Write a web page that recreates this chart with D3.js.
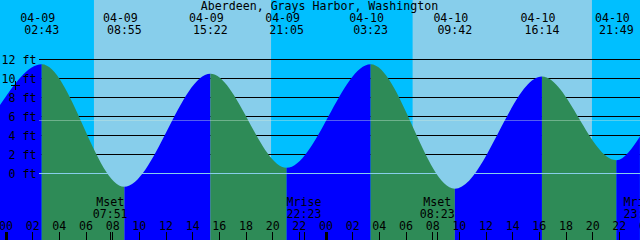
<!DOCTYPE html>
<html>
<head>
<meta charset="utf-8">
<script src="https://cdn.jsdelivr.net/npm/d3@7"></script>
<style>
  body { margin: 0; background: #00BFFF; overflow: hidden; }
  #tideChart { width: 640px; height: 240px; }
  text { font-family: "DejaVu Sans Mono", monospace; font-size: 11.6px; fill: #000; }
</style>
</head>
<body>
<div id="tideChart"></div>
<script>
// Station name
var title = "Aberdeen, Grays Harbor, Washington";

// High / low tides (time, height in ft)
var eventTimes = ["04-09 02:43", "04-09 08:55", "04-09 15:22", "04-09 21:05",
                  "04-10 03:23", "04-10 09:42", "04-10 16:14", "04-10 21:49"];
var eventLevels = [11.5, -1.4, 10.5, 0.6, 11.5, -1.6, 10.2, 1.4];

// Water level where the curve meets the left / right border
var edgeTimes = ["04-08 23:35", "04-10 23:35"];
var edgeLevels = [7.2, 3.9];

// Sun
var sunriseTimes = ["04-09 06:38", "04-10 06:32"];
var sunsetTimes = ["04-09 19:55", "04-10 19:59"];

// Moon
var moonTimes = ["04-09 07:51", "04-09 22:23", "04-10 08:23", "04-10 23:40"];
var moonNames = ["Mset", "Mrise", "Mset", "Mrise"];

// Height grid
var levelTicks = [0, 2, 4, 6, 8, 10, 12];
var meanLevel = 5.55;

// "now" mark
var markTime = "04-09 00:45";
var markLevel = 9.3;

var width = 640, height = 240;

var svg = d3.select("#tideChart")
  .append("svg")
  .attr("width", width)
  .attr("height", height);

var parseTime = d3.utcParse("%m-%d %H:%M");
var fmtDate = d3.utcFormat("%m-%d");
var fmtTime = d3.utcFormat("%H:%M");

// Define scales
var xScale = d3.scaleUtc()
  .domain([parseTime("04-09 00:00"), parseTime("04-11 00:00")])
  .range([5.5, 645.5]);

var yScale = d3.scaleLinear()
  .domain([0, 12])
  .range([173.5, 59.5]);

// Sky: night background, daylight bands
svg.append("rect")
  .attr("width", width)
  .attr("height", height)
  .attr("fill", "#00BFFF");

svg.selectAll(".day")
  .data(sunriseTimes)
  .enter()
  .append("rect")
  .attr("class", "day")
  .attr("x", function(d) { return xScale(parseTime(d)); })
  .attr("y", 0)
  .attr("width", function(d, i) { return xScale(parseTime(sunsetTimes[i])) - xScale(parseTime(d)); })
  .attr("height", height)
  .attr("fill", "#87CEEB");

// Height lines (under the water)
svg.selectAll(".grid")
  .data(levelTicks.filter(function(d) { return d > 0; }))
  .enter()
  .append("line")
  .attr("class", "grid")
  .attr("x1", 39)
  .attr("x2", width)
  .attr("y1", function(d) { return yScale(d); })
  .attr("y2", function(d) { return yScale(d); })
  .attr("stroke", "#000")
  .attr("shape-rendering", "crispEdges");

// Tide curve points
var points = edgeTimes.concat(eventTimes).map(function(t, i) {
  var lv = i < edgeTimes.length ? edgeLevels[i] : eventLevels[i - edgeTimes.length];
  return { time: parseTime(t), level: lv };
}).sort(function(a, b) { return a.time - b.time; });

var area = d3.area()
  .x(function(d) { return xScale(d.time); })
  .y0(height)
  .y1(function(d) { return yScale(d.level); })
  .curve(d3.curveMonotoneX);

svg.append("clipPath")
  .attr("id", "waterClip")
  .append("path")
  .attr("d", area(points));

var segments = d3.pairs(points);

svg.append("g")
  .attr("clip-path", "url(#waterClip)")
  .selectAll("rect")
  .data(segments)
  .enter()
  .append("rect")
  .attr("x", function(d) { return xScale(d[0].time); })
  .attr("y", 0)
  .attr("width", function(d) { return xScale(d[1].time) - xScale(d[0].time); })
  .attr("height", height)
  .attr("fill", function(d) { return d[1].level > d[0].level ? "#0000FF" : "#2E8B57"; });

// Mean level and datum lines over the water
svg.append("line")
  .attr("x1", 39).attr("x2", width)
  .attr("y1", yScale(meanLevel)).attr("y2", yScale(meanLevel))
  .attr("stroke", "#d0eadc")
  .attr("stroke-opacity", 0.4)
  .attr("shape-rendering", "crispEdges");

svg.append("line")
  .attr("x1", 39).attr("x2", width)
  .attr("y1", yScale(0)).attr("y2", yScale(0))
  .attr("stroke", "#87CEEB")
  .attr("shape-rendering", "crispEdges");

// Height labels
svg.selectAll(".ylabel")
  .data(levelTicks)
  .enter()
  .append("text")
  .attr("class", "ylabel")
  .attr("x", 36.5)
  .attr("y", function(d) { return yScale(d) + 4; })
  .attr("text-anchor", "end")
  .text(function(d) { return d + " ft"; });

// "+" mark
var mx = xScale(parseTime(markTime)), my = yScale(markLevel);
svg.append("path")
  .attr("d", "M" + (mx - 4.5) + "," + my + "H" + (mx + 4.5) + "M" + mx + "," + (my - 4.5) + "V" + (my + 4.5))
  .attr("stroke", "#000")
  .attr("shape-rendering", "crispEdges");

// Title
svg.append("text")
  .attr("x", 319.5)
  .attr("y", 10)
  .attr("text-anchor", "middle")
  .text(title);

// Tide event labels
var events = eventTimes.map(function(t) { return parseTime(t); });

svg.selectAll(".edate")
  .data(events)
  .enter()
  .append("text")
  .attr("class", "edate")
  .attr("x", function(d) { return xScale(d) - 4; })
  .attr("y", 21.5)
  .attr("text-anchor", "middle")
  .text(function(d) { return fmtDate(d); });

svg.selectAll(".etime")
  .data(events)
  .enter()
  .append("text")
  .attr("class", "etime")
  .attr("x", function(d) { return xScale(d); })
  .attr("y", 34)
  .attr("text-anchor", "middle")
  .text(function(d) { return fmtTime(d); });

// Hour axis along the bottom
var xAxis = d3.axisTop(xScale)
  .ticks(d3.utcHour.every(2))
  .tickSize(8)
  .tickPadding(2)
  .tickFormat(d3.utcFormat("%H"));

var axisG = svg.append("g")
  .attr("transform", "translate(0," + height + ")")
  .call(xAxis);

axisG.select(".domain").remove();
axisG.selectAll(".tick line")
  .attr("stroke", "#000")
  .attr("shape-rendering", "crispEdges")
  .attr("stroke-width", function(d) { return d.getUTCHours() === 0 ? 3 : 1; });

// Moon labels and ticks
var moon = moonTimes.map(function(t, i) { return { time: parseTime(t), name: moonNames[i] }; });

var moonG = svg.selectAll(".moon")
  .data(moon)
  .enter()
  .append("g")
  .attr("class", "moon");

moonG.append("text")
  .attr("x", function(d) { return xScale(d.time); })
  .attr("y", 205.5)
  .attr("text-anchor", "middle")
  .text(function(d) { return d.name; });

moonG.append("text")
  .attr("x", function(d) { return xScale(d.time); })
  .attr("y", 217.5)
  .attr("text-anchor", "middle")
  .text(function(d) { return fmtTime(d.time); });

moonG.append("line")
  .attr("x1", function(d) { return Math.round(xScale(d.time)) + 0.5; })
  .attr("x2", function(d) { return Math.round(xScale(d.time)) + 0.5; })
  .attr("y1", height - 8)
  .attr("y2", height)
  .attr("stroke", "#000")
  .attr("shape-rendering", "crispEdges");
</script>
</body>
</html>
